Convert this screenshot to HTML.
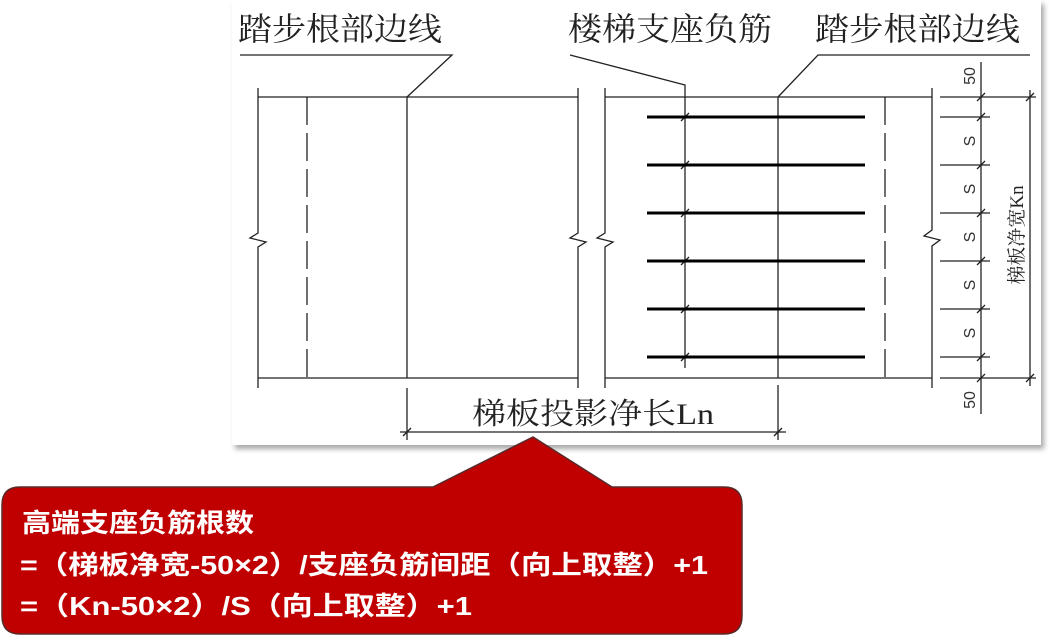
<!DOCTYPE html>
<html><head><meta charset="utf-8"><style>
body{margin:0;width:1054px;height:640px;background:#fff;position:relative;overflow:hidden}
.panel{position:absolute;left:232px;top:0;width:809px;height:445px;background:#fff;box-shadow:3px 4px 5px rgba(0,0,0,0.35)}
svg{position:absolute;left:0;top:0}
</style></head><body>
<div class="panel"></div>
<svg width="1054" height="640" viewBox="0 0 1054 640">
<g stroke="#222" stroke-width="1.3" fill="none">
<polyline points="240,55 452,55 407,97"/>
<polyline points="570,55 685,85 685,368"/>
<polyline points="1030,55 818,55 778,97"/>
<line x1="258" y1="97" x2="578" y2="97"/>
<line x1="258" y1="378" x2="578" y2="378"/>
<polyline points="258,88 258,233 250,238 266,242 258,247 258,388"/>
<polyline points="578,88 578,233 570,238 586,242 578,247 578,388"/>
<polyline points="605,88 605,233 597,238 613,242 605,247 605,388"/>
<line x1="307" y1="97" x2="307" y2="378" stroke-dasharray="28,8"/>
<line x1="407" y1="97" x2="407" y2="378"/>
<line x1="605" y1="97" x2="932" y2="97"/>
<line x1="605" y1="378" x2="932" y2="378"/>
<line x1="778" y1="97" x2="778" y2="378"/>
<line x1="885" y1="97" x2="885" y2="378" stroke-dasharray="28,8"/>
<polyline points="932,88 932,230 924,236 940,240 932,246 932,388"/>
<line x1="407" y1="388" x2="407" y2="440"/>
<line x1="778" y1="385" x2="778" y2="440"/>
<line x1="400" y1="432" x2="786" y2="432"/>
<line x1="403" y1="436" x2="411" y2="428"/>
<line x1="774" y1="436" x2="782" y2="428"/>
<line x1="981" y1="62" x2="981" y2="414"/>
<line x1="1030" y1="90" x2="1030" y2="386"/>
<line x1="940" y1="97" x2="1036" y2="97"/>
<line x1="940" y1="378" x2="1036" y2="378"/>
<line x1="1026" y1="101" x2="1034" y2="93"/>
<line x1="1026" y1="382" x2="1034" y2="374"/>
<line x1="940" y1="117" x2="990" y2="117"/><line x1="940" y1="165" x2="990" y2="165"/>
<line x1="940" y1="213" x2="990" y2="213"/><line x1="940" y1="261" x2="990" y2="261"/>
<line x1="940" y1="309" x2="990" y2="309"/><line x1="940" y1="357" x2="990" y2="357"/>
<path d="M977 101l8-8M977 121l8-8M977 169l8-8M977 217l8-8M977 265l8-8M977 313l8-8M977 361l8-8M977 382l8-8"/>
<path d="M681 121l8-8M681 169l8-8M681 217l8-8M681 265l8-8M681 313l8-8M681 361l8-8"/>
</g>
<g stroke="#000" stroke-width="3">
<line x1="647" y1="117" x2="865" y2="117"/><line x1="647" y1="165" x2="865" y2="165"/>
<line x1="647" y1="213" x2="865" y2="213"/><line x1="647" y1="261" x2="865" y2="261"/>
<line x1="647" y1="309" x2="865" y2="309"/><line x1="647" y1="357" x2="865" y2="357"/>
</g>
<g font-family="'Liberation Serif','Noto Serif CJK SC',serif" fill="#222">
<text x="238" y="40" font-size="32" textLength="204" lengthAdjust="spacingAndGlyphs">踏步根部边线</text>
<text x="568" y="40" font-size="32" textLength="204" lengthAdjust="spacingAndGlyphs">楼梯支座负筋</text>
<text x="815" y="40" font-size="32" textLength="205" lengthAdjust="spacingAndGlyphs">踏步根部边线</text>
<text x="472" y="424" font-size="30" textLength="242" lengthAdjust="spacingAndGlyphs">梯板投影净长Ln</text>
<text transform="translate(1023,235) rotate(-90)" font-size="19" text-anchor="middle">梯板净宽Kn</text>
</g>
<g font-family="'Liberation Sans',sans-serif" fill="#333" font-size="16" text-anchor="middle">
<text transform="translate(975,76) rotate(-90)">50</text>
<text transform="translate(975,400) rotate(-90)">50</text>
<text transform="translate(975,141) rotate(-90)">S</text>
<text transform="translate(975,189) rotate(-90)">S</text>
<text transform="translate(975,237) rotate(-90)">S</text>
<text transform="translate(975,285) rotate(-90)">S</text>
<text transform="translate(975,333) rotate(-90)">S</text>
</g>
<path d="M20,487 L433,487 L533,437 L612,487 L724,487 Q742,487 742,505 L742,616 Q742,634 724,634 L20,634 Q2,634 2,616 L2,505 Q2,487 20,487 Z" fill="#c00000" stroke="#5a2a2a" stroke-width="1.5"/>
<g font-family="'Liberation Sans','Noto Sans CJK SC',sans-serif" font-weight="bold" fill="#fff" font-size="26">
<text x="22" y="532" textLength="232" lengthAdjust="spacingAndGlyphs">高端支座负筋根数</text>
<text x="20" y="574" textLength="688" lengthAdjust="spacingAndGlyphs">=（梯板净宽-50×2）/支座负筋间距（向上取整）+1</text>
<text x="20" y="615" textLength="452" lengthAdjust="spacingAndGlyphs">=（Kn-50×2）/S（向上取整）+1</text>
</g>
</svg>
</body></html>
